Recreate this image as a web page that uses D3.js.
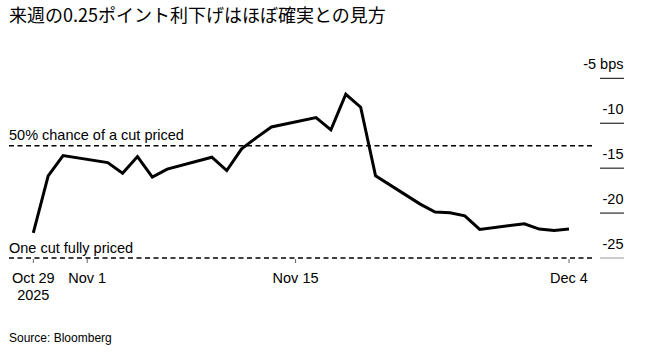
<!DOCTYPE html>
<html>
<head>
<meta charset="utf-8">
<script src="https://cdn.jsdelivr.net/npm/d3@7"></script>
<style>
  body { margin: 0; background: #fff; }
  svg { display: block; font-family: "Liberation Sans", Arial, sans-serif; }
</style>
</head>
<body>
<div id="chart"></div>
<script>
// データ（bps）
var dates = ["2025-10-29","2025-10-30","2025-10-31","2025-11-03","2025-11-04","2025-11-05",
  "2025-11-06","2025-11-07","2025-11-10","2025-11-11","2025-11-12","2025-11-13","2025-11-14",
  "2025-11-17","2025-11-18","2025-11-19","2025-11-20","2025-11-21","2025-11-24","2025-11-25",
  "2025-11-26","2025-11-27","2025-11-28","2025-12-01","2025-12-02","2025-12-03","2025-12-04"];
var values = [-22.2,-15.86,-13.6,-14.38,-15.56,-13.71,-16.0,-15.11,-13.78,-15.27,-12.86,-11.6,-10.41,
  -9.38,-10.74,-6.78,-8.22,-15.86,-19.0,-19.89,-19.97,-20.3,-21.82,-21.19,-21.78,-21.93,-21.78];
var yTicks = [-5, -10, -15, -20, -25];
var xTicks = ["2025-10-29T00:00","2025-11-01T15:00","2025-11-15T15:00","2025-12-04T00:00"];
var xTickLabels = [["Oct 29","2025"],["Nov 1"],["Nov 15"],["Dec 4"]];
var refLines = [
  {value: -12.5, label: "50% chance of a cut priced"},
  {value: -25, label: "One cut fully priced"}
];

var width = 661, height = 353;
var svg = d3.select("#chart").append("svg")
  .attr("width", width).attr("height", height);

var parse = function(s) { return new Date(s.length > 10 ? s : s + "T00:00"); };
var data = dates.map(function(d, i) { return {date: parse(d), value: values[i]}; });

var x = d3.scaleTime()
  .domain([parse(dates[0]), parse(dates[dates.length - 1])])
  .range([33.3, 569]);
var y = d3.scaleLinear().domain([-25, -5]).range([258, 78.3]);

// タイトル
svg.append("text")
  .attr("x", 9).attr("y", 21.5)
  .attr("font-family", "'Noto Sans CJK JP', sans-serif")
  .attr("font-size", 18).attr("fill", "#000")
  .text("来週の0.25ポイント利下げはほぼ確実との見方");

// 右側の目盛り
var yAxis = svg.append("g");
yTicks.forEach(function(t) {
  yAxis.append("line")
    .attr("x1", 600).attr("x2", 624)
    .attr("y1", y(t)).attr("y2", y(t))
    .attr("stroke", t === -25 ? "#999" : "#000").attr("stroke-width", 1);
  yAxis.append("text")
    .attr("x", 623.5).attr("y", y(t) - 9.5)
    .attr("text-anchor", "end").attr("font-size", 14.5).attr("fill", "#000")
    .text(t === -5 ? t + " bps" : t);
});

// 参照線
refLines.forEach(function(r) {
  svg.append("line")
    .attr("x1", 9).attr("x2", 593)
    .attr("y1", y(r.value)).attr("y2", y(r.value))
    .attr("stroke", "#000").attr("stroke-width", 1.5)
    .attr("stroke-dasharray", "5,3.5");
  svg.append("text")
    .attr("x", 9).attr("y", y(r.value) - 5.5)
    .attr("font-size", 14.5).attr("fill", "#000")
    .text(r.label);
});

// X軸
var xAxis = svg.append("g");
xTicks.forEach(function(t, i) {
  var px = x(parse(t));
  xAxis.append("line")
    .attr("x1", px).attr("x2", px).attr("y1", 259).attr("y2", 263)
    .attr("stroke", "#666").attr("stroke-width", 1);
  xTickLabels[i].forEach(function(s, j) {
    xAxis.append("text")
      .attr("x", px).attr("y", 283 + j * 17)
      .attr("text-anchor", "middle").attr("font-size", 14.5).attr("fill", "#000")
      .text(s);
  });
});

// 折れ線
var line = d3.line()
  .x(function(d) { return x(d.date); })
  .y(function(d) { return y(d.value); });

svg.append("path")
  .datum(data)
  .attr("d", line)
  .attr("fill", "none")
  .attr("stroke", "#000")
  .attr("stroke-width", 3)
  .attr("stroke-linejoin", "miter");

// 出典
svg.append("text")
  .attr("x", 9).attr("y", 341.5)
  .attr("font-size", 12).attr("fill", "#000")
  .text("Source: Bloomberg");
</script>
</body>
</html>
